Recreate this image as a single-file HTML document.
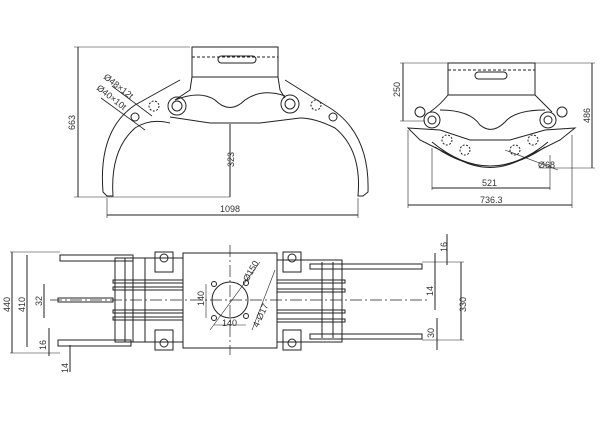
<!DOCTYPE html>
<html><head><style>body{margin:0;background:#fff}svg{display:block}text{font-family:"Liberation Sans",sans-serif;font-size:9px;fill:#333;stroke:none}</style></head><body>
<svg width="600" height="428" viewBox="0 0 600 428" stroke="#222" fill="none" stroke-width="1">
<!-- TOP LEFT VIEW -->
<rect x="192" y="47" width="86" height="30"/><line x1="192" y1="57" x2="278" y2="57" stroke-dasharray="3 2"/>
<rect x="218" y="56" width="38" height="7" rx="3.5"/>
<path d="M192 77 L190 90 L175 100 M278 77 L280 90 L285 98"/>
<path d="M175 100 Q200 90 215 100 Q230 115 245 100 Q262 88 285 96"/>
<path d="M170 117 L210 123 L260 123 L300 118"/>
<circle cx="177" cy="106" r="9"/><circle cx="177" cy="106" r="5"/>
<circle cx="290" cy="104" r="9"/><circle cx="290" cy="104" r="5"/>
<circle cx="154" cy="106" r="5" stroke-dasharray="2 1.5"/><circle cx="316" cy="105" r="5" stroke-dasharray="2 1.5"/>
<circle cx="135" cy="117" r="4"/><circle cx="333" cy="117" r="4"/>
<path d="M180 80 L135 105 Q98 130 103 192 L107 196 L113 196 Q110 150 135 128 Q150 118 170 123"/>
<path d="M285 80 L325 105 Q370 130 368 192 L363 196 L358 196 Q362 150 335 128 Q315 118 300 118"/>
<path d="M101 98 L145 130 M112 86 L152 116" stroke-width="0.8"/>
<text transform="translate(103,78) rotate(38)" font-size="8">Ø48×12t</text>
<text transform="translate(96,89) rotate(38)" font-size="8">Ø40×10t</text>
<line x1="78" y1="47" x2="78" y2="197"/><line x1="74" y1="47" x2="190" y2="47" stroke-width="0.6"/><line x1="74" y1="197" x2="230" y2="197" stroke-width="0.6"/>
<text transform="translate(75,130) rotate(-90)">663</text>
<line x1="230" y1="124" x2="230" y2="197"/><text transform="translate(234,167) rotate(-90)">323</text>
<line x1="107" y1="215" x2="358" y2="215"/><line x1="107" y1="198" x2="107" y2="218" stroke-width="0.6"/><line x1="358" y1="198" x2="358" y2="218" stroke-width="0.6"/>
<text x="220" y="212">1098</text>
<!-- TOP RIGHT VIEW -->
<rect x="448" y="63" width="87" height="32"/><line x1="448" y1="70" x2="535" y2="70" stroke-dasharray="3 2"/>
<rect x="475" y="72" width="32" height="7" rx="3.5"/>
<path d="M448 95 Q440 105 430 112 M535 95 Q545 105 552 112"/>
<path d="M440 110 Q470 110 480 125 Q492 135 505 122 Q515 110 545 110"/>
<circle cx="432" cy="120" r="8"/><circle cx="432" cy="120" r="4"/>
<circle cx="548" cy="120" r="8"/><circle cx="548" cy="120" r="4"/>
<circle cx="420" cy="112" r="5"/><circle cx="562" cy="112" r="5"/>
<path d="M408 128 L440 130 L470 140 L510 140 L545 130 L575 128 L560 140 L520 160 Q490 175 460 160 L420 140 Z"/>
<path d="M432 142 Q490 190 548 142 M435 147 Q490 185 545 147"/>
<circle cx="447" cy="140" r="5" stroke-dasharray="2 1.5"/><circle cx="533" cy="140" r="5" stroke-dasharray="2 1.5"/>
<circle cx="465" cy="150" r="5" stroke-dasharray="2 1.5"/><circle cx="515" cy="150" r="5" stroke-dasharray="2 1.5"/>
<line x1="403" y1="63" x2="403" y2="121"/><line x1="400" y1="63" x2="450" y2="63" stroke-width="0.6"/><line x1="400" y1="121" x2="425" y2="121" stroke-width="0.6"/>
<text transform="translate(400,97) rotate(-90)">250</text>
<line x1="592" y1="63" x2="592" y2="168"/><line x1="535" y1="63" x2="595" y2="63" stroke-width="0.6"/><line x1="540" y1="168" x2="595" y2="168" stroke-width="0.6"/>
<text transform="translate(590,123) rotate(-90)">486</text>
<line x1="432" y1="188" x2="550" y2="188"/><line x1="432" y1="148" x2="432" y2="190" stroke-width="0.6"/><line x1="550" y1="155" x2="550" y2="190" stroke-width="0.6"/>
<text x="482" y="186">521</text>
<line x1="408" y1="205" x2="572" y2="205"/><line x1="408" y1="130" x2="408" y2="208" stroke-width="0.6"/><line x1="572" y1="135" x2="572" y2="208" stroke-width="0.6"/>
<text x="480" y="203">736.3</text>
<line x1="505" y1="150" x2="558" y2="170" stroke-width="0.6"/><text x="538" y="168" font-size="9">Ø68</text>
<!-- BOTTOM VIEW -->
<rect x="183" y="253" width="94" height="95"/>
<circle cx="230" cy="300" r="18"/>
<circle cx="214" cy="284" r="2.5"/><circle cx="246" cy="283" r="2.5"/><circle cx="214" cy="318" r="2.5"/><circle cx="246" cy="316" r="2.5"/>
<line x1="50" y1="300" x2="430" y2="300" stroke-dasharray="12 3 2 3" stroke-width="0.7"/>
<line x1="230" y1="245" x2="230" y2="355" stroke-dasharray="12 3 2 3" stroke-width="0.7"/>
<line x1="210" y1="330" x2="260" y2="262" stroke-width="0.6"/><line x1="252" y1="330" x2="275" y2="270" stroke-width="0.6"/>
<text transform="translate(248,282) rotate(-60)" font-size="9">Ø150</text>
<text transform="translate(258,328) rotate(-65)" font-size="9">4-Ø17</text>
<line x1="206" y1="284" x2="206" y2="318" stroke-width="0.6"/><text transform="translate(204,306) rotate(-90)" font-size="9">140</text>
<line x1="214" y1="325" x2="246" y2="325" stroke-width="0.6"/><text x="222" y="326" font-size="9">140</text>
<!-- left fingers -->
<rect x="60" y="255" width="73" height="6"/><rect x="58" y="340" width="73" height="6"/>
<rect x="115" y="258" width="68" height="84"/>
<line x1="125" y1="258" x2="125" y2="342"/><line x1="133" y1="258" x2="133" y2="342"/><line x1="145" y1="258" x2="145" y2="342"/>
<rect x="113" y="280" width="70" height="3"/><rect x="113" y="287" width="70" height="3"/><rect x="113" y="310" width="70" height="3"/><rect x="113" y="317" width="70" height="3"/>
<rect x="58" y="298" width="55" height="4"/>
<rect x="155" y="252" width="18" height="20"/><rect x="155" y="330" width="18" height="20"/>
<circle cx="164" cy="258" r="4"/><circle cx="164" cy="343" r="4"/>
<!-- right fingers -->
<rect x="310" y="264" width="112" height="5"/><rect x="310" y="334" width="112" height="5"/>
<rect x="277" y="260" width="65" height="82"/>
<line x1="322" y1="262" x2="322" y2="338"/><line x1="333" y1="262" x2="333" y2="338"/>
<rect x="277" y="280" width="68" height="3"/><rect x="277" y="289" width="68" height="3"/><rect x="277" y="310" width="68" height="3"/><rect x="277" y="319" width="68" height="3"/>
<rect x="283" y="252" width="18" height="20"/><rect x="283" y="330" width="18" height="20"/>
<circle cx="292" cy="258" r="4"/><circle cx="292" cy="343" r="4"/>
<!-- dims -->
<line x1="12" y1="252" x2="12" y2="353"/><line x1="10" y1="252" x2="60" y2="252" stroke-width="0.5"/><line x1="10" y1="353" x2="60" y2="353" stroke-width="0.5"/>
<text transform="translate(10,312) rotate(-90)">440</text>
<line x1="27" y1="255" x2="27" y2="347"/><text transform="translate(25,312) rotate(-90)">410</text>
<line x1="44" y1="284" x2="44" y2="318"/><text transform="translate(42,306) rotate(-90)">32</text>
<line x1="49" y1="328" x2="49" y2="356"/><text transform="translate(46,350) rotate(-90)" font-size="9">16</text>
<line x1="70" y1="345" x2="70" y2="372"/><text transform="translate(68,373) rotate(-90)" font-size="9">14</text>
<line x1="447" y1="234" x2="447" y2="265"/><text transform="translate(447,252) rotate(-90)" font-size="9">16</text>
<line x1="435" y1="253" x2="435" y2="310"/><text transform="translate(433,296) rotate(-90)" font-size="9">14</text>
<line x1="461" y1="262" x2="461" y2="340"/><line x1="422" y1="262" x2="464" y2="262" stroke-width="0.5"/><line x1="422" y1="340" x2="464" y2="340" stroke-width="0.5"/>
<text transform="translate(466,312) rotate(-90)">330</text>
<line x1="437" y1="318" x2="437" y2="350"/><text transform="translate(434,338) rotate(-90)" font-size="9">30</text>
</svg>
</body></html>
